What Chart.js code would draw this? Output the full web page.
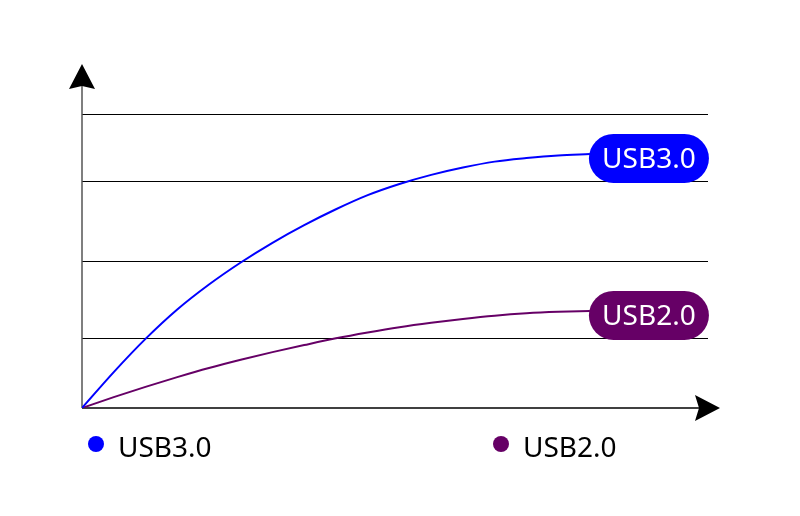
<!DOCTYPE html>
<html>
<head>
<meta charset="utf-8">
<script src="https://cdn.jsdelivr.net/npm/chart.js@4.4.0/dist/chart.umd.min.js"></script>
<style>
  html, body { margin: 0; padding: 0; background: #fff; }
  #wrap { width: 800px; height: 516px; }
</style>
</head>
<body>
<div id="wrap"><canvas id="usbChart"></canvas></div>
<script>
// valores (eixo y de 0 a 100)
const xSteps = [0, 5, 10, 15, 20, 25, 30, 35, 40, 45, 50, 55, 60, 65, 70, 75, 80];
const usb3Values = [0, 12.2, 23.5, 33.5, 42.0, 49.5, 56.2, 62.2, 67.6, 72.4, 76.2, 79.3, 81.8, 83.8, 85.0, 85.9, 86.4];
const usb2Values = [0, 3.7, 7.2, 10.5, 13.6, 16.4, 19.0, 21.4, 23.7, 25.7, 27.5, 29.0, 30.3, 31.4, 32.2, 32.7, 33.0];
const gridValues = [23.5, 49.7, 77.2, 100];
const seriesNames = ["USB3.0", "USB2.0"];
const seriesColors = ["#0000ff", "#660066"];

const labelFont = '28px "Noto Sans", sans-serif';

function toPoints(values) {
  return xSteps.map((x, i) => ({ x: x, y: values[i] }));
}

// eixos com setas
const axesPlugin = {
  id: "axesArrows",
  beforeDatasetsDraw(chart) {
    const { ctx, chartArea } = chart;
    const x0 = chart.scales.x.getPixelForValue(0);
    const y0 = chart.scales.y.getPixelForValue(0);
    const yTip = chartArea.top - 50;
    const xTip = chartArea.right + 12;
    ctx.save();
    ctx.lineWidth = 1.5;
    ctx.strokeStyle = "#555";
    ctx.beginPath();
    ctx.moveTo(x0, y0);
    ctx.lineTo(x0, yTip + 20);
    ctx.stroke();
    ctx.strokeStyle = "#000";
    ctx.beginPath();
    ctx.moveTo(x0, y0);
    ctx.lineTo(xTip - 20, y0);
    ctx.stroke();

    ctx.fillStyle = "#000";
    ctx.beginPath();
    ctx.moveTo(x0, yTip);
    ctx.lineTo(x0 + 13, yTip + 25);
    ctx.lineTo(x0, yTip + 22);
    ctx.lineTo(x0 - 13, yTip + 25);
    ctx.closePath();
    ctx.fill();

    ctx.beginPath();
    ctx.moveTo(xTip, y0);
    ctx.lineTo(xTip - 25, y0 - 13);
    ctx.lineTo(xTip - 21, y0);
    ctx.lineTo(xTip - 25, y0 + 13);
    ctx.closePath();
    ctx.fill();
    ctx.restore();
  }
};

// etiquetas no fim das curvas e legenda
const labelsPlugin = {
  id: "endLabels",
  afterDatasetsDraw(chart) {
    const { ctx } = chart;
    ctx.save();
    ctx.font = labelFont;
    chart.data.datasets.forEach((ds, i) => {
      const meta = chart.getDatasetMeta(i);
      const last = meta.data[meta.data.length - 1];
      const left = last.x - 1;
      const top = last.y - 20;
      const w = 120, h = 49;
      ctx.fillStyle = ds.borderColor;
      ctx.beginPath();
      ctx.roundRect(left, top, w, h, h / 2);
      ctx.fill();
      ctx.fillStyle = "#fff";
      ctx.textAlign = "center";
      ctx.textBaseline = "alphabetic";
      ctx.fillText(ds.label, left + w / 2, last.y + 14);
    });

    const legendX = [96, 501];
    chart.data.datasets.forEach((ds, i) => {
      ctx.fillStyle = ds.borderColor;
      ctx.beginPath();
      ctx.arc(legendX[i], 444, 8, 0, Math.PI * 2);
      ctx.fill();
      ctx.fillStyle = "#000";
      ctx.textAlign = "left";
      ctx.fillText(ds.label, legendX[i] + 22, 457);
    });
    ctx.restore();
  }
};

const ctx = document.getElementById("usbChart").getContext("2d");
new Chart(ctx, {
  type: "line",
  data: {
    datasets: [
      {
        label: seriesNames[0],
        data: toPoints(usb3Values),
        borderColor: seriesColors[0],
        borderWidth: 2,
        pointRadius: 0,
        cubicInterpolationMode: "monotone",
        fill: false
      },
      {
        label: seriesNames[1],
        data: toPoints(usb2Values),
        borderColor: seriesColors[1],
        borderWidth: 2,
        pointRadius: 0,
        cubicInterpolationMode: "monotone",
        fill: false
      }
    ]
  },
  options: {
    responsive: true,
    maintainAspectRatio: false,
    animation: false,
    layout: { padding: { left: 82, right: 92, top: 114, bottom: 108 } },
    scales: {
      x: { type: "linear", min: 0, max: 98.6, display: false },
      y: {
        min: 0,
        max: 100,
        border: { display: false },
        ticks: { display: false },
        grid: { color: "#000", lineWidth: 1, drawTicks: false },
        afterBuildTicks: (scale) => {
          scale.ticks = gridValues.map((v) => ({ value: v }));
        }
      }
    },
    plugins: {
      legend: { display: false },
      tooltip: { enabled: false }
    }
  },
  plugins: [axesPlugin, labelsPlugin]
});
</script>
</body>
</html>
